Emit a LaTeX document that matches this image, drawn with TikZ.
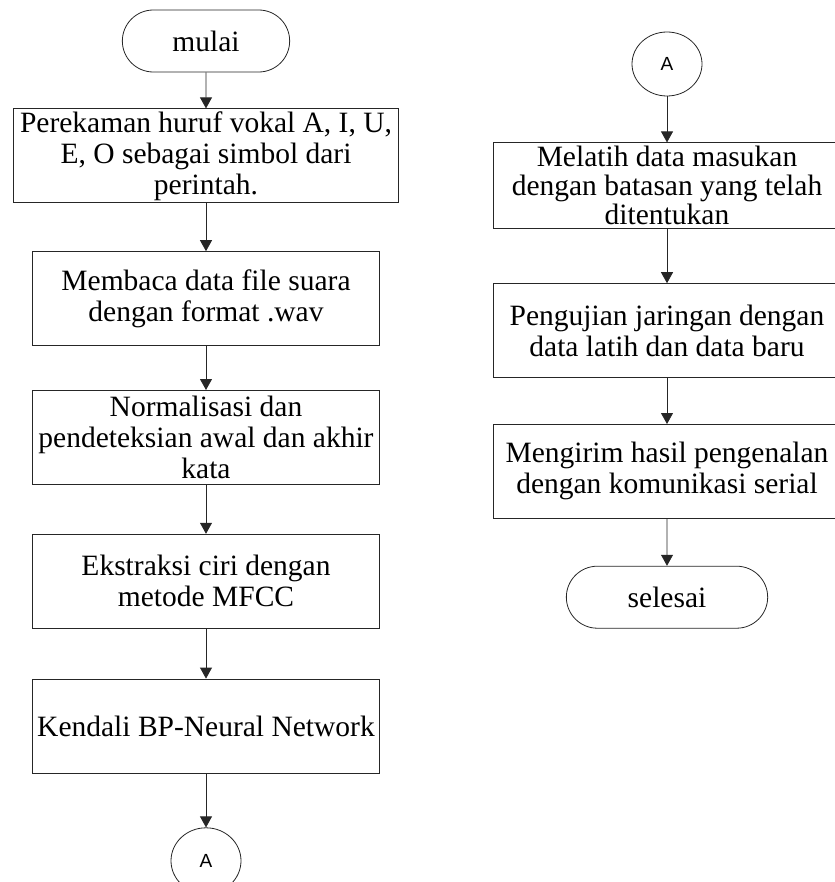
\documentclass[tikz,border=0pt]{standalone}
\usepackage{fontspec}
\setmainfont{Liberation Serif}
\newfontfamily\connfont{Liberation Sans}
\usetikzlibrary{shapes.geometric,shapes.misc,arrows.meta,positioning}

\begin{document}
\begin{tikzpicture}[x=1pt, y=1pt, font=\fontsize{29.5}{31}\selectfont,
      >={Triangle[length=11pt, width=12pt]},
      proc/.style={draw=black!85, line width=0.8pt, align=center,
                   minimum width=347pt, minimum height=94pt, inner xsep=2pt, inner ysep=0pt},
      term/.style={draw=black!85, line width=0.8pt, rounded rectangle,
                   minimum width=174pt, minimum height=62pt},
      conn/.style={draw=black!85, line width=0.8pt, ellipse, inner sep=0pt,
                   minimum width=70pt, minimum height=64pt,
                   font=\connfont\fontsize{19}{19}\selectfont},
      ar/.style={->, draw=black!85, line width=0.8pt}]
    \useasboundingbox (0,0) rectangle (834,-882);
    % --- left column ---
    \node[term] (mulai) at (206,-41) {mulai};
    \node[proc, minimum width=385pt, below=36pt of mulai] (rekam)
      {Perekaman huruf vokal A, I, U,\\E, O sebagai simbol dari\\perintah.};
    \node[proc, below=48pt of rekam] (baca) {Membaca data file suara\\dengan format .wav};
    \node[proc, below=44pt of baca] (norm) {Normalisasi dan\\pendeteksian awal dan akhir\\kata};
    \node[proc, below=49pt of norm] (mfcc) {Ekstraksi ciri dengan\\metode MFCC};
    \node[proc, below=50pt of mfcc] (bpnn) {Kendali BP-Neural Network};
    \node[conn, minimum height=66pt, below=54pt of bpnn] (kaA) {A};
    \draw[ar] (mulai) -- (rekam);
    \draw[ar] (rekam) -- (baca);
    \draw[ar] (baca) -- (norm);
    \draw[ar] (norm) -- (mfcc);
    \draw[ar] (mfcc) -- (bpnn);
    \draw[ar] (bpnn) -- (kaA);
    % --- right column ---
    \node[conn] (kbA) at (667,-64) {A};
    \node[proc, minimum height=86pt, font=\fontsize{29.5}{29}\selectfont, below=46pt of kbA] (latih)
      {Melatih data masukan\\dengan batasan yang telah\\ditentukan};
    \node[proc, below=54pt of latih] (uji) {Pengujian jaringan dengan\\data latih dan data baru};
    \node[proc, below=46pt of uji] (kirim) {Mengirim hasil pengenalan\\dengan komunikasi serial};
    \node[term, minimum width=208pt, below=47pt of kirim] (selesai) {selesai};
    \draw[ar] (kbA) -- (latih);
    \draw[ar] (latih) -- (uji);
    \draw[ar] (uji) -- (kirim);
    \draw[ar] (kirim) -- (selesai);
\end{tikzpicture}
\end{document}
